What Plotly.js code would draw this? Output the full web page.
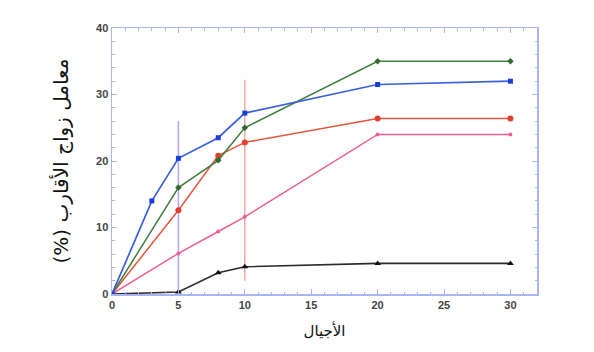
<!DOCTYPE html>
<html><head><meta charset="utf-8">
<script src="https://cdn.plot.ly/plotly-3.0.1.min.js"></script>
<style>body{margin:0;background:#fff}#c{width:594px;height:352px}</style>
</head><body><div id="c"></div>
<script>
const generations = [0, 3, 5, 8, 10, 20, 30];
const blueGen = [0, 3, 5, 8, 10, 20, 30];
const blueVals = [0, 14, 20.4, 23.5, 27.2, 31.5, 32];
const otherGen = [0, 5, 8, 10, 20, 30];
const greenVals = [0, 16, 20.1, 25, 35, 35];
const redVals = [0, 12.6, 20.8, 22.8, 26.4, 26.4];
const pinkVals = [0, 6.1, 9.4, 11.6, 24, 24];
const blackVals = [0, 0.3, 3.2, 4.1, 4.6, 4.6];
const purpleBarX = [5, 5];
const purpleBarY = [0, 26];
const redBarX = [10, 10];
const redBarY = [2, 32.2];
const xTicks = [0, 5, 10, 15, 20, 25, 30];
const yTicks = [0, 10, 20, 30, 40];

const traces = [
  {x: purpleBarX, y: purpleBarY, mode: 'lines', line: {color: 'rgba(140,130,240,0.7)', width: 1.5}},
  {x: redBarX, y: redBarY, mode: 'lines', line: {color: 'rgba(240,110,90,0.75)', width: 1.2}},
  {x: otherGen, y: blackVals, mode: 'lines+markers', line: {color: '#2b2b2b', width: 1.6}, marker: {symbol: 'triangle-up', size: 6, color: '#111'}},
  {x: otherGen, y: pinkVals, mode: 'lines+markers', line: {color: '#ec5f97', width: 1.5}, marker: {symbol: 'circle', size: 4, color: '#ec5f97'}},
  {x: otherGen, y: redVals, mode: 'lines+markers', line: {color: '#e4563c', width: 1.5}, marker: {symbol: 'circle', size: 6, color: '#e0402e'}},
  {x: otherGen, y: greenVals, mode: 'lines+markers', line: {color: '#3f7d3f', width: 1.5}, marker: {symbol: 'diamond', size: 5, color: '#2f6a2f'}},
  {x: blueGen, y: blueVals, mode: 'lines+markers', line: {color: '#3a5fe0', width: 1.7}, marker: {symbol: 'square', size: 5, color: '#1a3fd8'}}
];

const layout = {
  width: 594, height: 352,
  margin: {l: 112, r: 57, t: 28, b: 58},
  showlegend: false,
  paper_bgcolor: '#fff', plot_bgcolor: '#fff',
  font: {family: 'Liberation Sans, Arial, sans-serif', color: '#444'},
  xaxis: {
    range: [0, 32], tickvals: xTicks, ticktext: xTicks.map(String),
    showgrid: false, zeroline: false,
    showline: true, linecolor: '#a9b4f2', linewidth: 1.5, mirror: 'ticks',
    ticks: 'inside', ticklen: 5, tickcolor: '#a9b4f2',
    minor: {dtick: 1, ticks: 'inside', ticklen: 2.5, tickcolor: '#a9b4f2'},
    tickfont: {size: 11, color: '#444', family: 'Liberation Sans, Arial, sans-serif', weight: 'bold'},
    title: {text: 'الأجيال', font: {size: 15, color: '#111', family: 'DejaVu Sans, sans-serif'}, standoff: 16}
  },
  yaxis: {
    range: [0, 40], tickvals: yTicks, ticktext: yTicks.map(String),
    showgrid: false, zeroline: false,
    showline: true, linecolor: '#a9b4f2', linewidth: 1.5, mirror: 'ticks',
    ticks: 'inside', ticklen: 5, tickcolor: '#a9b4f2',
    minor: {dtick: 2, ticks: 'inside', ticklen: 2.5, tickcolor: '#a9b4f2'},
    tickfont: {size: 11, color: '#444', family: 'Liberation Sans, Arial, sans-serif', weight: 'bold'},
    title: {text: 'معامل زواج الأقارب (%)\u200F', font: {size: 20, color: '#111', family: 'DejaVu Sans, sans-serif'}, standoff: 22}
  }
};
Plotly.newPlot('c', traces, layout, {displayModeBar: false, staticPlot: true});
</script></body></html>
